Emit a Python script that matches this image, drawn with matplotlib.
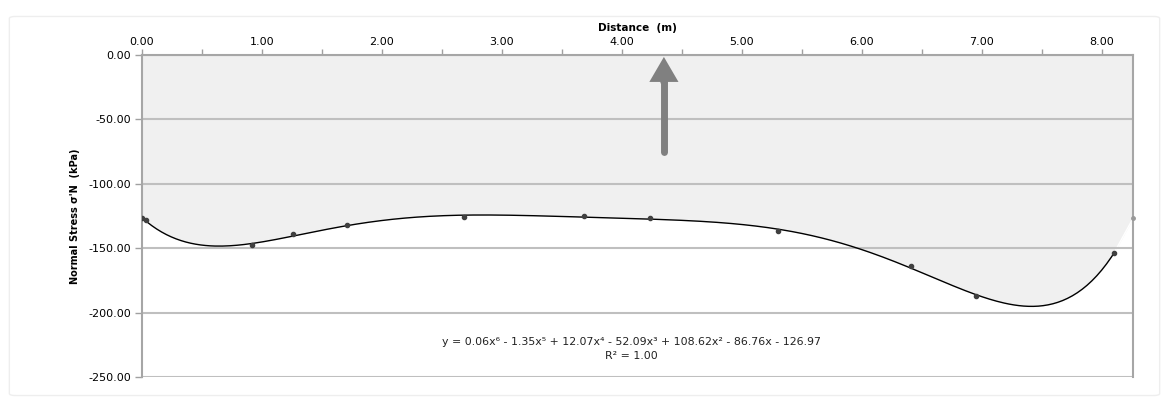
import numpy as np
import matplotlib
matplotlib.use("Agg")
from matplotlib import pyplot as plt
from matplotlib.patches import FancyBboxPatch
from matplotlib.ticker import MultipleLocator, FormatStrFormatter

# measured points (distance in m, normal stress in kPa)
distance = [0.00, 0.03, 0.92, 1.26, 1.71, 2.68, 3.68, 4.23, 5.30, 6.41, 6.95, 8.10]
stress = [-126.6, -128.4, -147.5, -139.3, -132.0, -125.8, -125.1, -126.6, -136.7, -164.1, -186.8, -154.0]
# end point of the shaded area on the right axis
edge_x = 8.26
edge_y = -126.9

equation = "y = 0.06x⁶ - 1.35x⁵ + 12.07x⁴ - 52.09x³ + 108.62x² - 86.76x - 126.97"
r2_text = "R² = 1.00"

fig = plt.figure(figsize=(11.69, 4.12), dpi=100)
frame = FancyBboxPatch((0.008, 0.04), 0.984, 0.92, boxstyle="round,pad=0,rounding_size=0.005",
                       transform=fig.transFigure, facecolor="white", edgecolor="#eeeeee", lw=1, zorder=-10)
fig.patches.append(frame)
ax = fig.add_axes([0.1215, 0.085, 0.8477, 0.7815])
ax.set_facecolor("none")

# 6th order trendline fitted on the points
coef = np.polyfit(distance, stress, 6)
xs = np.linspace(distance[0], distance[-1], 400)
ys = np.polyval(coef, xs)

# shaded area between 0 and the curve
fx = np.append(xs, edge_x)
fy = np.append(ys, edge_y)
ax.fill_between(fx, fy, 0, color="#f0f0f0", lw=0, zorder=1)
ax.plot([distance[-1], edge_x], [stress[-1], edge_y], color="white", lw=1, zorder=2)
ax.plot(edge_x, edge_y, "o", color="#999999", ms=2.5, zorder=4, clip_on=False)

for yv in range(-250, 1, 50):
    ax.axhline(yv, color="#bfbfbf", lw=1.5, zorder=2)

ax.plot(xs, ys, color="black", lw=1, zorder=3)
ax.plot(distance, stress, "o", color="#404040", ms=3, zorder=4)

# arrow pointing up
ax.plot([4.35, 4.35], [-75, -15], color="#808080", lw=5, solid_capstyle="round", zorder=5)
ax.annotate("", xy=(4.35, -1.5), xytext=(4.35, -22),
            arrowprops=dict(arrowstyle="simple,head_length=1.8,head_width=2.1,tail_width=0.5",
                            fc="#808080", ec="none", lw=0, shrinkA=0, shrinkB=0), zorder=5)

ax.text(4.08, -222.5, equation, ha="center", va="center", fontsize=7.9, color="#222222")
ax.text(4.08, -233.5, r2_text, ha="center", va="center", fontsize=7.9, color="#222222")

ax.set_xlim(0, edge_x)
ax.set_ylim(-250, 0)
ax.xaxis.set_ticks_position("top")
ax.xaxis.set_label_position("top")
ax.xaxis.set_major_locator(MultipleLocator(1))
ax.xaxis.set_minor_locator(MultipleLocator(0.5))
ax.xaxis.set_major_formatter(FormatStrFormatter("%.2f"))
ax.yaxis.set_major_locator(MultipleLocator(50))
ax.yaxis.set_major_formatter(FormatStrFormatter("%.2f"))
ax.tick_params(axis="x", which="both", direction="out", length=4, width=1, color="#a0a0a0",
               labelsize=8, pad=2)
ax.tick_params(axis="y", direction="out", length=5, width=1, color="#a0a0a0", labelsize=8, pad=3)

for side in ["top", "left", "right"]:
    ax.spines[side].set_color("#a6a6a6")
    ax.spines[side].set_linewidth(1.5)
ax.spines["bottom"].set_visible(False)

ax.set_xlabel("Distance  (m)", fontsize=7.5, fontweight="bold", labelpad=4)
ax.set_ylabel("Normal Stress σ'N  (kPa)", fontsize=7, fontweight="bold", labelpad=6)

fig.savefig("out.png", dpi=100)
